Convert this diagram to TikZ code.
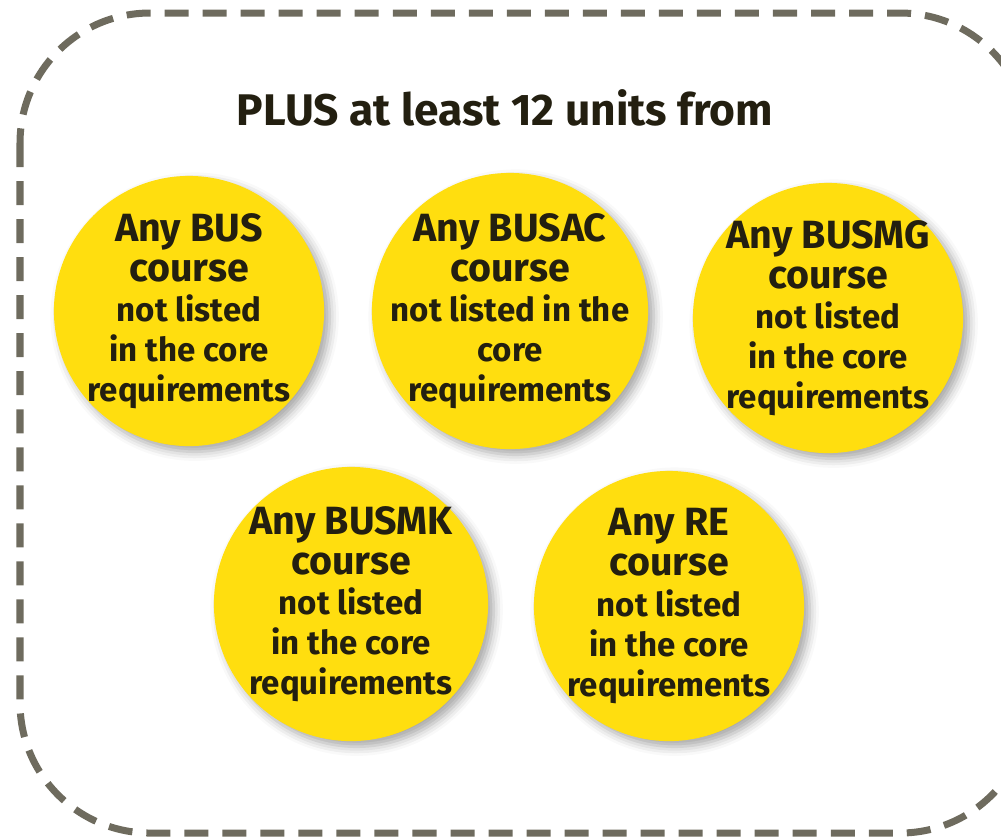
\documentclass[tikz,border=0pt]{standalone}
\usepackage{fontspec}
\setmainfont{Fira Sans}
\usetikzlibrary{shadows.blur}
\definecolor{framegray}{HTML}{6E6B5E}
\definecolor{courseyellow}{HTML}{FFDE0F}
\definecolor{inkdark}{HTML}{231F10}
\tikzset{
  course/.style={circle, fill=courseyellow, inner sep=0pt, minimum size=2.7cm,
    blur shadow={shadow xshift=1.6pt, shadow yshift=-1.6pt, shadow blur radius=2.6pt, shadow opacity=35}},
  coursetext/.style={inner sep=0pt, align=center, text=inkdark,
    font=\bfseries\fontsize{9.4pt}{11.4pt}\selectfont},
  heading/.style={text=inkdark, font=\bfseries\fontsize{12.6pt}{15pt}\selectfont}
}
\newcommand\bigline[1]{{\fontsize{11.2pt}{11.4pt}\selectfont #1}}

\begin{document}
\begin{tikzpicture}[x=0.01cm, y=-0.01cm]
    \useasboundingbox (0,0) rectangle (1001,838);
% Frame
    \draw[framegray, line width=0.07cm, dash pattern=on 0.24cm off 0.14cm, rounded corners=1.3cm]
        (20,13) rectangle (1030,833);
% Title
    \node[heading] (title) at (505,108) {PLUS at least 12 units from};
% Courses, top row
    \node[course] (bus) at (189,311) {};
    \node[course, minimum size=2.76cm] (busac) at (510,311) {};
    \node[course] (busmg) at (828,318) {};
% Courses, bottom row
    \node[course, minimum size=2.74cm] (busmk) at (351,604) {};
    \node[course] (re) at (669,606) {};
% Texts on the circles
    \node[coursetext] (bus-txt) at (bus) {\bigline{Any BUS}\\\bigline{course}\\not listed\\in the core\\requirements};
    \node[coursetext] (busac-txt) at (busac) {\bigline{Any BUSAC}\\\bigline{course}\\not listed in the\\core\\requirements};
    \node[coursetext] (busmg-txt) at (busmg) {\bigline{Any BUSMG}\\\bigline{course}\\not listed\\in the core\\requirements};
    \node[coursetext] (busmk-txt) at (busmk) {\bigline{Any BUSMK}\\\bigline{course}\\not listed\\in the core\\requirements};
    \node[coursetext] (re-txt) at (re) {\bigline{Any RE}\\\bigline{course}\\not listed\\in the core\\requirements};
\end{tikzpicture}
\end{document}
